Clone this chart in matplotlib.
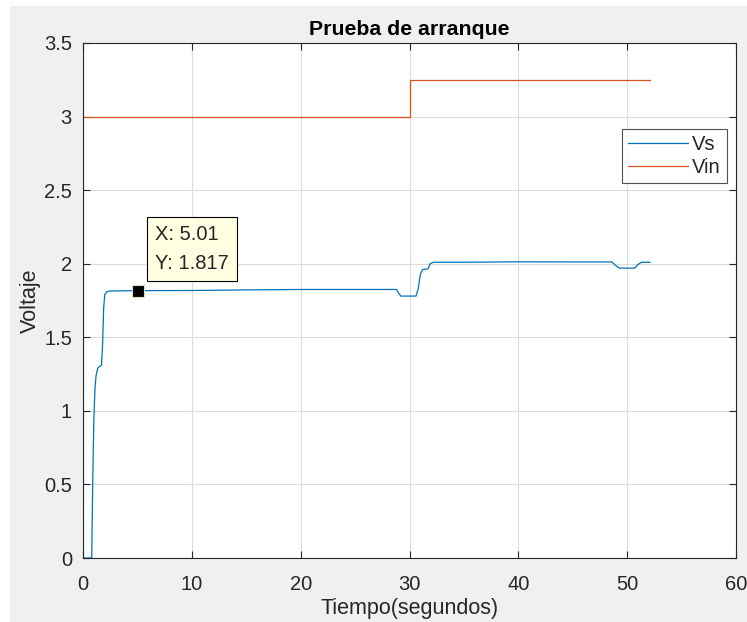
import matplotlib
matplotlib.use("Agg")
import matplotlib.pyplot as plt

plt.rcParams['font.family'] = ['Liberation Sans', 'DejaVu Sans']

# Vs (output voltage) key points
vs_t = [0.0, 0.8, 0.9, 1.0, 1.1, 1.2, 1.35, 1.5, 1.7, 1.8, 1.9, 2.0, 2.2, 2.5, 3.0,
        5.01, 10.0, 15.0, 20.0, 25.0, 28.8, 29.0, 29.2, 30.6, 30.8, 31.0, 31.2, 31.7,
        31.9, 32.2, 35.0, 40.0, 45.0, 48.6, 48.9, 49.3, 50.7, 51.0, 51.3, 52.1]
vs_v = [0.0, 0.0, 0.55, 0.95, 1.15, 1.24, 1.29, 1.30, 1.31, 1.45, 1.70, 1.79, 1.81, 1.815, 1.815,
        1.817, 1.818, 1.822, 1.825, 1.825, 1.825, 1.80, 1.78, 1.78, 1.83, 1.93, 1.96, 1.965,
        2.00, 2.01, 2.01, 2.013, 2.012, 2.012, 1.99, 1.97, 1.97, 1.995, 2.01, 2.01]

# Vin (input voltage)
vin_t = [0.0, 30.0, 30.0, 52.1]
vin_v = [3.0, 3.0, 3.25, 3.25]

tip_x, tip_y = 5.01, 1.817

fig = plt.figure(figsize=(7.47, 6.22), dpi=100, facecolor='white')
fig.patches.append(plt.Rectangle((10/747, 0), 1, 1 - 6/622, transform=fig.transFigure,
                                 facecolor='#f0f0f0', edgecolor='none', zorder=-10))
ax = fig.add_axes([83/747, 1 - 558/622, (736 - 83)/747, (558 - 43)/622])
ax.set_facecolor('white')

ax.plot(vs_t, vs_v, color='#0072bd', lw=0.9, label='Vs')
ax.plot(vin_t, vin_v, color='#d95319', lw=0.9, label='Vin')

ax.set_xlim(0, 60)
ax.set_ylim(0, 3.5)
ax.set_xticks(range(0, 61, 10))
ax.set_yticks([0, 0.5, 1, 1.5, 2, 2.5, 3, 3.5])
ax.set_yticklabels(['0', '0.5', '1', '1.5', '2', '2.5', '3', '3.5'])
ax.grid(True, color='#dcdcdc', lw=0.8)
ax.set_axisbelow(True)
ax.tick_params(direction='in', top=True, right=True, labelsize=14.5, colors='#262626',
               length=5, width=0.8)
ax.tick_params(axis='y', pad=8)
ax.tick_params(axis='x', pad=12)
for s in ax.spines.values():
    s.set_color('#262626')
    s.set_linewidth(0.8)

ax.set_title('Prueba de arranque', fontsize=15.3, fontweight='bold', color='black', pad=6)
ax.set_xlabel('Tiempo(segundos)', fontsize=15.5, color='#262626', labelpad=3)
ax.set_ylabel('Voltaje', fontsize=15.5, color='#262626', labelpad=2)

leg = ax.legend(loc='upper right', bbox_to_anchor=(0.986, 0.833), borderaxespad=0,
                fontsize=14.5, frameon=True, fancybox=False, edgecolor='#262626',
                handlelength=3.0, borderpad=0.3, labelspacing=0.2, handletextpad=0.2)
leg.get_frame().set_linewidth(0.8)
for t in leg.get_texts():
    t.set_color('#262626')

ax.plot([tip_x], [tip_y], marker='s', ms=9, color='black', mec='#e0e0c0', mew=0.8, zorder=5)
ax.annotate(f'X: {tip_x}\nY: {tip_y}', xy=(tip_x, tip_y), xytext=(12.5, 12.5),
            textcoords='offset points', fontsize=14.5, color='#262626', va='bottom', ha='left',
            linespacing=1.7,
            bbox=dict(boxstyle='square,pad=0.4', fc='#ffffe1', ec='black', lw=0.8), zorder=6)

fig.savefig('out.png', dpi=100)
